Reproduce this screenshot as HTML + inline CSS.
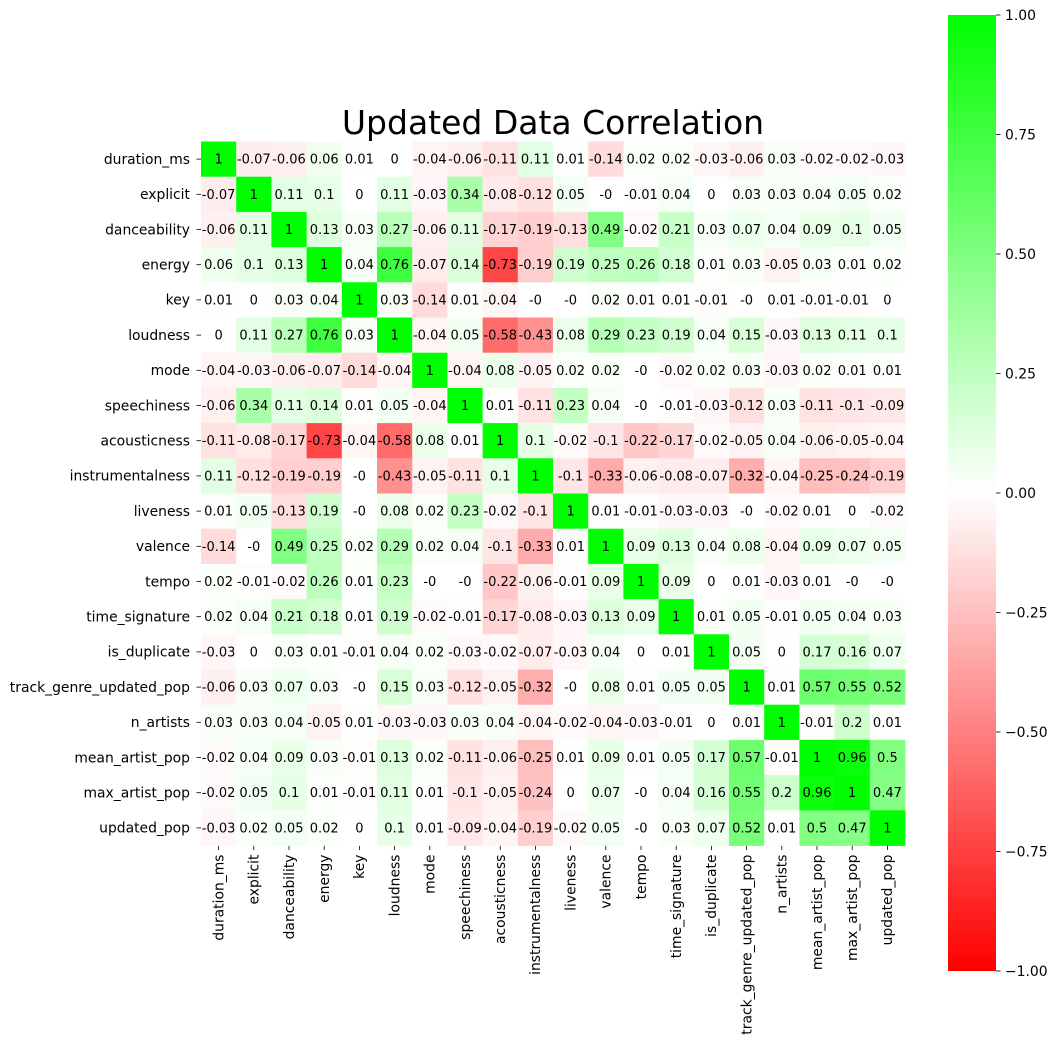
<!DOCTYPE html>
<html><head><meta charset="utf-8"><style>
html,body{margin:0;padding:0;background:#fff;}
svg{display:block;font-family:"DejaVu Sans","Liberation Sans",sans-serif;}
</style></head><body>
<svg id="chart" width="1058" height="1046" viewBox="0 0 1058 1046"></svg>
<script>
const labels = ["duration_ms","explicit","danceability","energy","key","loudness","mode","speechiness","acousticness","instrumentalness","liveness","valence","tempo","time_signature","is_duplicate","track_genre_updated_pop","n_artists","mean_artist_pop","max_artist_pop","updated_pop"];
const matrix = [
[1,-0.07,-0.06,0.06,0.01,0,-0.04,-0.06,-0.11,0.11,0.01,-0.14,0.02,0.02,-0.03,-0.06,0.03,-0.02,-0.02,-0.03],
[-0.07,1,0.11,0.1,0,0.11,-0.03,0.34,-0.08,-0.12,0.05,-0,-0.01,0.04,0,0.03,0.03,0.04,0.05,0.02],
[-0.06,0.11,1,0.13,0.03,0.27,-0.06,0.11,-0.17,-0.19,-0.13,0.49,-0.02,0.21,0.03,0.07,0.04,0.09,0.1,0.05],
[0.06,0.1,0.13,1,0.04,0.76,-0.07,0.14,-0.73,-0.19,0.19,0.25,0.26,0.18,0.01,0.03,-0.05,0.03,0.01,0.02],
[0.01,0,0.03,0.04,1,0.03,-0.14,0.01,-0.04,-0,-0,0.02,0.01,0.01,-0.01,-0,0.01,-0.01,-0.01,0],
[0,0.11,0.27,0.76,0.03,1,-0.04,0.05,-0.58,-0.43,0.08,0.29,0.23,0.19,0.04,0.15,-0.03,0.13,0.11,0.1],
[-0.04,-0.03,-0.06,-0.07,-0.14,-0.04,1,-0.04,0.08,-0.05,0.02,0.02,-0,-0.02,0.02,0.03,-0.03,0.02,0.01,0.01],
[-0.06,0.34,0.11,0.14,0.01,0.05,-0.04,1,0.01,-0.11,0.23,0.04,-0,-0.01,-0.03,-0.12,0.03,-0.11,-0.1,-0.09],
[-0.11,-0.08,-0.17,-0.73,-0.04,-0.58,0.08,0.01,1,0.1,-0.02,-0.1,-0.22,-0.17,-0.02,-0.05,0.04,-0.06,-0.05,-0.04],
[0.11,-0.12,-0.19,-0.19,-0,-0.43,-0.05,-0.11,0.1,1,-0.1,-0.33,-0.06,-0.08,-0.07,-0.32,-0.04,-0.25,-0.24,-0.19],
[0.01,0.05,-0.13,0.19,-0,0.08,0.02,0.23,-0.02,-0.1,1,0.01,-0.01,-0.03,-0.03,-0,-0.02,0.01,0,-0.02],
[-0.14,-0,0.49,0.25,0.02,0.29,0.02,0.04,-0.1,-0.33,0.01,1,0.09,0.13,0.04,0.08,-0.04,0.09,0.07,0.05],
[0.02,-0.01,-0.02,0.26,0.01,0.23,-0,-0,-0.22,-0.06,-0.01,0.09,1,0.09,0,0.01,-0.03,0.01,-0,-0],
[0.02,0.04,0.21,0.18,0.01,0.19,-0.02,-0.01,-0.17,-0.08,-0.03,0.13,0.09,1,0.01,0.05,-0.01,0.05,0.04,0.03],
[-0.03,0,0.03,0.01,-0.01,0.04,0.02,-0.03,-0.02,-0.07,-0.03,0.04,0,0.01,1,0.05,0,0.17,0.16,0.07],
[-0.06,0.03,0.07,0.03,-0,0.15,0.03,-0.12,-0.05,-0.32,-0,0.08,0.01,0.05,0.05,1,0.01,0.57,0.55,0.52],
[0.03,0.03,0.04,-0.05,0.01,-0.03,-0.03,0.03,0.04,-0.04,-0.02,-0.04,-0.03,-0.01,0,0.01,1,-0.01,0.2,0.01],
[-0.02,0.04,0.09,0.03,-0.01,0.13,0.02,-0.11,-0.06,-0.25,0.01,0.09,0.01,0.05,0.17,0.57,-0.01,1,0.96,0.5],
[-0.02,0.05,0.1,0.01,-0.01,0.11,0.01,-0.1,-0.05,-0.24,0,0.07,-0,0.04,0.16,0.55,0.2,0.96,1,0.47],
[-0.03,0.02,0.05,0.02,0,0.1,0.01,-0.09,-0.04,-0.19,-0.02,0.05,-0,0.03,0.07,0.52,0.01,0.5,0.47,1]
];
const cbTicks = [1,0.75,0.5,0.25,0,-0.25,-0.5,-0.75,-1];
const cbTickLabels = ["1.00","0.75","0.50","0.25","0.00","\u22120.25","\u22120.50","\u22120.75","\u22121.00"];

const NS="http://www.w3.org/2000/svg";
const svg=document.getElementById('chart');
function mk(t,a){const e=document.createElementNS(NS,t);for(const k in a)e.setAttribute(k,a[k]);svg.appendChild(e);return e;}
const X0=201,Y0=141.5,W=704,H=704;
const n=labels.length, cw=W/n, ch=H/n;
const xScale=i=>X0+i*cw;
const yScale=i=>Y0+i*ch;
function color(v){
  v=Math.max(-1,Math.min(1,v));
  let r,g,b;
  if(v>=0){r=Math.round(255*(1-v));g=255;b=Math.round(255*(1-v));}
  else{const t=-v;r=255;g=Math.round(255*(1-t));b=Math.round(255*(1-t));}
  return `rgb(${r},${g},${b})`;
}
function fmt(v){return (Object.is(v,-0)?"-0":String(v));}
let t=mk('text',{x:553,y:134,'text-anchor':'middle','font-size':33});
t.textContent='Updated Data Correlation';


for(let r=0;r<n;r++){
  for(let c=0;c<n;c++){
    const v=matrix[r][c];
    const rect=mk('rect',{x:xScale(c),y:yScale(r),width:cw+0.4,height:ch+0.4,fill:color(v)});
    
    
    const tx=mk('text',{x:xScale(c)+cw/2,y:yScale(r)+ch/2+4.5,'text-anchor':'middle','font-size':13,fill:'#000'});
    tx.textContent=fmt(v);
    
    
  }
  const yl=mk('text',{x:190,y:yScale(r)+ch/2+4.8,'text-anchor':'end','font-size':13.9});
  yl.textContent=labels[r];
  
  
  mk('line',{x1:196.5,x2:201,y1:yScale(r)+ch/2,y2:yScale(r)+ch/2,stroke:'#000','stroke-width':0.8});
  const cx=xScale(r)+cw/2;
  mk('line',{x1:cx,x2:cx,y1:Y0+H,y2:Y0+H+4.5,stroke:'#000','stroke-width':0.8});
  const xl=mk('text',{x:0,y:0,'text-anchor':'end','font-size':13.9,transform:`translate(${cx+4.8},${Y0+H+9}) rotate(-90)`});
  xl.textContent=labels[r];
  
  
}
const defs=mk('defs',{});
const lg=document.createElementNS(NS,'linearGradient');
lg.setAttribute('id','cbg');lg.setAttribute('x1','0');lg.setAttribute('y1','0');lg.setAttribute('x2','0');lg.setAttribute('y2','1');
[[0,'#00ff00'],[0.5,'#ffffff'],[1,'#ff0000']].forEach(([o,c])=>{const s=document.createElementNS(NS,'stop');s.setAttribute('offset',o);s.setAttribute('stop-color',c);lg.appendChild(s);});
defs.appendChild(lg);
const CBX=948,CBW=48,CBT=15,CBB=971;
const cbY=v=>CBT+(1-v)/2*(CBB-CBT);
const cb=mk('rect',{x:CBX,y:CBT,width:CBW,height:CBB-CBT,fill:'url(#cbg)'});


cbTicks.forEach((v,i)=>{
  const y=cbY(v);
  mk('line',{x1:CBX+CBW,x2:CBX+CBW+4.5,y1:y,y2:y,stroke:'#000','stroke-width':0.8});
  const l=mk('text',{x:1005,y:y+4.8,'font-size':13.9});
  l.textContent=cbTickLabels[i];
  
  
});
</script>
</body></html>
